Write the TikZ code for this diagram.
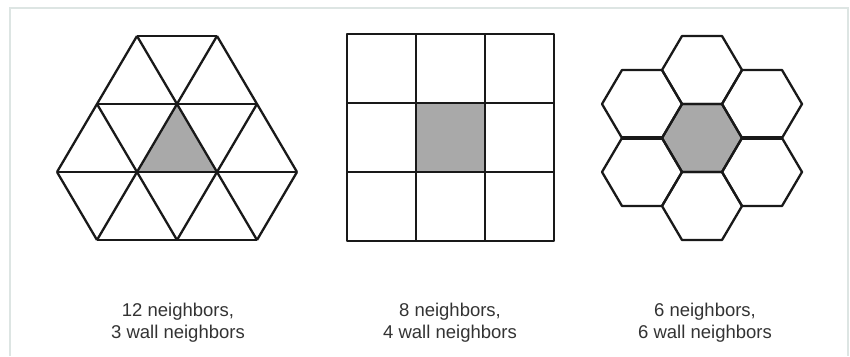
\documentclass[tikz,border=0pt]{standalone}
\usepackage{fontspec}
\setmainfont{Liberation Sans}
\definecolor{framegray}{HTML}{DDE5E3}
\definecolor{labelgray}{HTML}{333333}
\definecolor{cellgray}{HTML}{A9A9A9}
\tikzset{
  cellline/.style={line width=2.3pt, black!90, line join=round},
  celllabel/.style={align=center, text=labelgray, inner sep=0pt,
    font=\fontsize{18.5}{22}\selectfont},
}
\begin{document}
\begin{tikzpicture}[x=1pt, y=-1pt]
  \useasboundingbox (0,0) rectangle (850,356);
  % Frame
  \draw[framegray, line width=2pt] (10,356) -- (10,8) -- (848,8) -- (848,356);

  % Triangles
  \fill[cellgray] (137,172) -- (177,104) -- (217,172) -- cycle;
  \draw[cellline] (137,36) -- (217,36);
  \draw[cellline] (97,104) -- (257,104);
  \draw[cellline] (57,172) -- (297,172);
  \draw[cellline] (97,240) -- (257,240);
  \draw[cellline] (57,172) -- (137,36);
  \draw[cellline] (97,240) -- (217,36);
  \draw[cellline] (177,240) -- (257,104);
  \draw[cellline] (257,240) -- (297,172);
  \draw[cellline] (137,36) -- (257,240);
  \draw[cellline] (217,36) -- (297,172);
  \draw[cellline] (97,104) -- (177,240);
  \draw[cellline] (57,172) -- (97,240);

  % Squares
  \fill[cellgray] (416,103) rectangle (485,172);
  \draw[cellline] (347,34) rectangle (554,241);
  \draw[cellline] (416,34) -- (416,241);
  \draw[cellline] (485,34) -- (485,241);
  \draw[cellline] (347,103) -- (554,103);
  \draw[cellline] (347,172) -- (554,172);

  % Hexagons
  \fill[cellgray, shift={(702,138)}] (-40,0) -- (-20,-34) -- (20,-34) -- (40,0) -- (20,34) -- (-20,34) -- cycle;
  \draw[cellline, shift={(702,138)}] (-40,0) -- (-20,-34) -- (20,-34) -- (40,0) -- (20,34) -- (-20,34) -- cycle;
  \draw[cellline, shift={(702,70)}] (-40,0) -- (-20,-34) -- (20,-34) -- (40,0) -- (20,34) -- (-20,34) -- cycle;
  \draw[cellline, shift={(702,206)}] (-40,0) -- (-20,-34) -- (20,-34) -- (40,0) -- (20,34) -- (-20,34) -- cycle;
  \draw[cellline, shift={(642,104)}] (-40,0) -- (-20,-34) -- (20,-34) -- (40,0) -- (20,34) -- (-20,34) -- cycle;
  \draw[cellline, shift={(642,172)}] (-40,0) -- (-20,-34) -- (20,-34) -- (40,0) -- (20,34) -- (-20,34) -- cycle;
  \draw[cellline, shift={(762,104)}] (-40,0) -- (-20,-34) -- (20,-34) -- (40,0) -- (20,34) -- (-20,34) -- cycle;
  \draw[cellline, shift={(762,172)}] (-40,0) -- (-20,-34) -- (20,-34) -- (40,0) -- (20,34) -- (-20,34) -- cycle;
  % shared walls left and right of the centre look heavier
  \draw[cellline, line width=3.4pt] (622,138) -- (662,138);
  \draw[cellline, line width=3.4pt] (742,138) -- (782,138);

  % Labels
  \node[celllabel, anchor=north] (trilabel) at (178,303) {12 neighbors,\\3 wall neighbors};
  \node[celllabel, anchor=north] (sqlabel) at (450,303) {8 neighbors,\\4 wall neighbors};
  \node[celllabel, anchor=north] (hexlabel) at (705,303) {6 neighbors,\\6 wall neighbors};
\end{tikzpicture}
\end{document}
